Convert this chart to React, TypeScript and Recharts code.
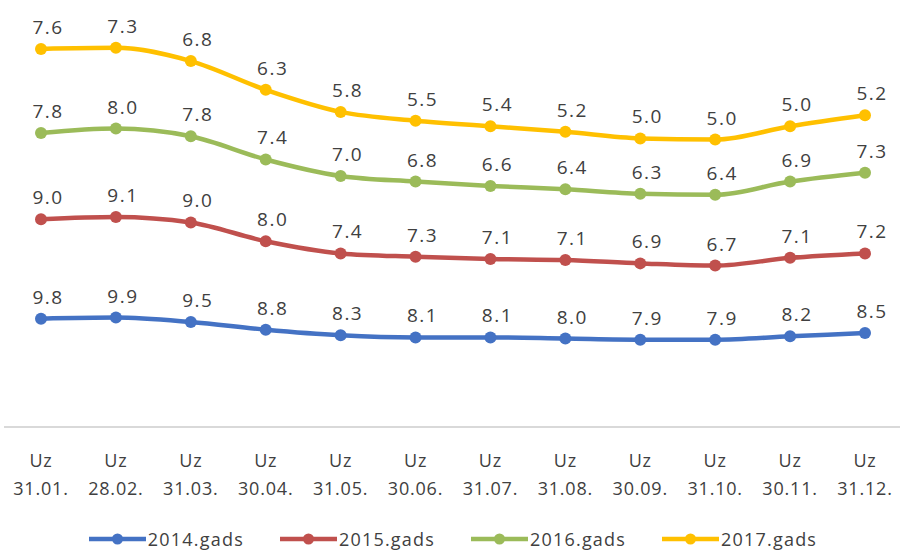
import React from 'react';
import { AreaChart, Area, XAxis, YAxis, Legend } from 'recharts';

const categories = ['Uz 31.01.', 'Uz 28.02.', 'Uz 31.03.', 'Uz 30.04.', 'Uz 31.05.', 'Uz 30.06.', 'Uz 31.07.', 'Uz 31.08.', 'Uz 30.09.', 'Uz 31.10.', 'Uz 30.11.', 'Uz 31.12.'];
const s2014 = [9.8, 9.9, 9.5, 8.8, 8.3, 8.1, 8.1, 8.0, 7.9, 7.9, 8.2, 8.5];
const s2015 = [9.0, 9.1, 9.0, 8.0, 7.4, 7.3, 7.1, 7.1, 6.9, 6.7, 7.1, 7.2];
const s2016 = [7.8, 8.0, 7.8, 7.4, 7.0, 6.8, 6.6, 6.4, 6.3, 6.4, 6.9, 7.3];
const s2017 = [7.6, 7.3, 6.8, 6.3, 5.8, 5.5, 5.4, 5.2, 5.0, 5.0, 5.0, 5.2];
const seriesNames = ['2014.gads', '2015.gads', '2016.gads', '2017.gads'];
const seriesKeys = ['y2014', 'y2015', 'y2016', 'y2017'];
const seriesColors = ['#4472C4', '#C0504D', '#9BBB59', '#FFC000'];
const seriesValues = [s2014, s2015, s2016, s2017];

const data = categories.map((c, i) => ({
  cat: c,
  y2014: s2014[i],
  y2015: s2015[i],
  y2016: s2016[i],
  y2017: s2017[i],
}));

const FONT = '"Open Sans", Lato, sans-serif';
const TEXT = '#404040';

const makeDot = (values: number[], color: string) => (props: any) => {
  const { cx, cy, index } = props;
  if (cx == null || cy == null) return <g key={`d-${index}`} />;
  return (
    <g key={`d-${color}-${index}`}>
      <circle cx={cx} cy={cy} r={6} fill={color} stroke={color} strokeWidth={0} />
      <text
        x={cx + 7}
        y={cy - 15}
        textAnchor="middle"
        fontFamily={FONT}
        fontSize={19}
        letterSpacing={1.5}
        fill={TEXT}
      >
        {values[index].toFixed(1)}
      </text>
    </g>
  );
};

const CategoryTick = (props: any) => {
  const { x, y, payload } = props;
  const parts = String(payload.value).split(' ');
  return (
    <g>
      <text x={x} y={y + 40} textAnchor="middle" fontFamily={FONT} fontSize={18} fill={TEXT} letterSpacing={0.8}>
        {parts[0]}
      </text>
      <text x={x} y={y + 68} textAnchor="middle" fontFamily={FONT} fontSize={18} fill={TEXT} letterSpacing={0.8}>
        {parts[1]}
      </text>
    </g>
  );
};

const renderLegend = (props: any) => {
  const payload = props.payload || [];
  return (
    <div
      style={{
        display: 'flex',
        justifyContent: 'center',
        alignItems: 'center',
        gap: 36,
        height: 24,
        fontFamily: FONT,
        fontSize: 18,
        color: TEXT,
        letterSpacing: 1.2,
      }}
    >
      {payload.map((p: any, i: number) => (
        <div key={i} style={{ display: 'flex', alignItems: 'center' }}>
          <svg width={57} height={14} style={{ display: 'block' }}>
            <line x1={0} y1={7} x2={57} y2={7} stroke={p.color} strokeWidth={4.5} />
            <circle cx={28.5} cy={7} r={5.5} fill={p.color} />
          </svg>
          <span style={{ marginLeft: 2, lineHeight: '24px' }}>{p.value}</span>
        </div>
      ))}
    </div>
  );
};

export default function App() {
  return (
    <div style={{ position: 'absolute', left: 0, top: 0, width: 900, height: 551, overflow: 'hidden', background: '#fff' }}>
      <AreaChart width={902} height={551} data={data} margin={{ top: 29, right: 0, bottom: 0, left: 4 }}>
        <XAxis
          dataKey="cat"
          interval={0}
          height={100}
          padding={{ left: 37, right: 37 }}
          tickLine={false}
          tickSize={0}
          tickMargin={0}
          axisLine={{ stroke: '#D9D9D9', strokeWidth: 2 }}
          tick={<CategoryTick />}
        />
        <YAxis hide domain={[0, 36]} />
        <Legend verticalAlign="bottom" height={24} content={renderLegend} />
        {seriesKeys.map((k, i) => (
          <Area
            key={k}
            type="monotone"
            dataKey={k}
            name={seriesNames[i]}
            stackId="stack"
            stroke={seriesColors[i]}
            strokeWidth={4.5}
            fill="none"
            fillOpacity={0}
            dot={makeDot(seriesValues[i], seriesColors[i])}
            activeDot={false}
            isAnimationActive={false}
          />
        ))}
      </AreaChart>
    </div>
  );
}
